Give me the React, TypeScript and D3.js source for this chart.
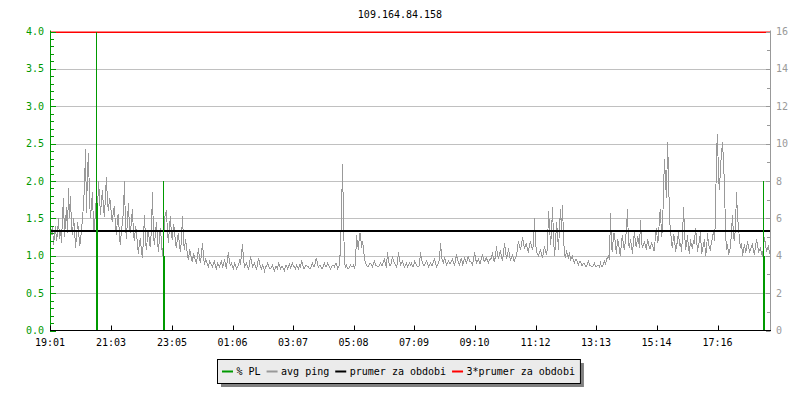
import { useEffect, useRef } from 'react';
import * as d3 from 'd3';

const TITLE = '109.164.84.158';
const START_TIME = '19:01';
const SPAN_MIN = 1440;
const TIME_TICKS = ['19:01', '21:03', '23:05', '01:06', '03:07', '05:08', '07:09', '09:10', '11:12', '13:13', '15:14', '17:16'];

const PL_TICKS = [0, 0.5, 1, 1.5, 2, 2.5, 3, 3.5, 4];
const MS_TICKS = [0, 2, 4, 6, 8, 10, 12, 14, 16];

// avg ping in ms, one sample every 2 minutes
const PING_STEP_MIN = 2;
const PING_MS = [
  4.9, 5.3, 5.6, 4.6, 5.1, 5.6, 4.8, 5.2, 6.0, 4.9, 5.4, 4.7, 6.1, 7.1, 5.0, 5.8, 6.6, 5.2, 7.6, 6.0,
  7.2, 5.5, 5.1, 6.0, 5.5, 4.4, 5.0, 5.8, 5.4, 4.6, 4.7, 5.5, 5.9, 6.8, 7.7, 9.7, 6.3, 8.5, 9.5, 7.0,
  6.0, 6.8, 7.4, 5.5, 5.3, 6.6, 7.0, 6.3, 8.0, 7.2, 6.2, 7.0, 7.5, 6.5, 6.1, 7.3, 8.2, 6.8, 6.4, 7.1,
  6.9, 6.0, 5.8, 6.5, 6.6, 5.5, 5.1, 6.1, 6.2, 4.9, 4.6, 5.5, 5.7, 6.5, 8.0, 5.5, 4.9, 6.0, 6.8, 5.4,
  5.2, 6.0, 6.5, 5.1, 4.8, 5.6, 5.3, 4.5, 4.1, 4.8, 4.9, 4.2, 3.9, 5.0, 6.2, 4.8, 4.3, 5.1, 5.4, 4.6,
  4.5, 5.6, 7.4, 5.0, 4.6, 5.3, 5.8, 4.8, 4.2, 5.0, 5.5, 4.6, 4.0, 4.8, 5.9, 6.3, 6.4, 5.2, 4.7, 5.6,
  6.1, 5.0, 4.9, 5.7, 5.4, 4.6, 4.4, 5.0, 5.2, 4.5, 4.2, 4.9, 6.1, 4.8, 4.3, 4.9, 4.5, 4.0, 3.8, 4.3,
  4.2, 3.8, 3.7, 4.1, 4.0, 3.7, 3.6, 4.0, 4.4, 3.8, 3.6, 4.1, 4.7, 3.9, 3.5, 3.8, 3.7, 3.5, 3.4, 3.7,
  3.6, 3.5, 3.4, 3.6, 3.7, 3.4, 3.3, 3.6, 3.5, 3.4, 3.6, 3.7, 3.4, 3.5, 3.8, 3.5, 3.3, 3.9, 4.2, 3.6,
  3.5, 3.6, 3.4, 3.3, 3.6, 3.5, 3.3, 3.4, 3.5, 3.7, 3.5, 4.1, 4.6, 3.8, 3.4, 3.5, 3.6, 3.4, 3.3, 3.5,
  4.0, 3.7, 3.4, 3.5, 3.6, 3.4, 3.3, 3.5, 3.9, 3.6, 3.4, 3.3, 3.5, 3.4, 3.2, 3.4, 3.4, 3.6, 3.5, 3.3,
  3.3, 3.4, 3.5, 3.3, 3.2, 3.4, 3.4, 3.3, 3.6, 3.5, 3.3, 3.4, 3.4, 3.3, 3.2, 3.5, 3.5, 3.3, 3.4, 3.6,
  3.3, 3.5, 3.6, 3.4, 3.4, 3.3, 3.5, 3.4, 3.3, 3.5, 3.4, 3.7, 3.6, 3.3, 3.3, 3.5, 3.5, 3.4, 3.4, 3.3,
  3.3, 3.5, 3.6, 3.4, 3.4, 3.7, 3.9, 3.5, 3.4, 3.5, 3.5, 3.3, 3.3, 3.5, 3.6, 3.4, 3.4, 3.6, 3.5, 3.4,
  3.3, 3.4, 3.5, 3.5, 3.4, 3.6, 3.6, 3.3, 3.4, 3.5, 4.5, 6.2, 8.9, 6.0, 3.6, 3.4, 3.5, 3.3, 3.3, 3.4,
  3.5, 3.4, 3.4, 3.5, 3.3, 3.6, 5.1, 4.6, 4.3, 5.2, 5.2, 4.4, 4.8, 4.4, 3.8, 3.6, 3.5, 3.4, 3.4, 3.6,
  3.6, 3.5, 3.4, 3.6, 3.7, 3.5, 3.5, 3.4, 3.4, 3.5, 3.6, 3.5, 3.5, 3.7, 3.8, 3.5, 3.4, 4.2, 3.7, 3.5,
  3.5, 3.6, 4.0, 3.7, 3.6, 3.5, 3.4, 3.6, 4.2, 3.8, 3.5, 3.6, 3.7, 3.5, 3.4, 3.5, 3.6, 3.4, 3.5, 3.6,
  3.5, 3.6, 3.4, 3.4, 3.7, 3.6, 3.5, 3.4, 3.4, 3.5, 4.2, 3.8, 3.6, 3.5, 3.5, 3.6, 3.7, 3.6, 3.4, 3.5,
  3.6, 3.5, 3.5, 3.7, 3.8, 3.6, 3.4, 3.5, 3.6, 3.8, 4.7, 4.0, 3.7, 3.6, 3.9, 3.7, 3.5, 3.6, 3.7, 3.6,
  3.6, 3.7, 3.8, 3.6, 3.5, 3.7, 4.1, 3.8, 3.6, 3.5, 3.7, 3.9, 3.5, 3.6, 3.9, 3.7, 3.6, 3.8, 4.0, 3.7,
  3.7, 3.6, 3.5, 3.8, 4.2, 3.9, 3.6, 3.7, 3.8, 3.6, 3.6, 3.9, 4.1, 3.8, 3.7, 3.8, 3.9, 3.7, 3.6, 3.8,
  3.8, 3.9, 4.2, 3.8, 3.7, 4.0, 4.5, 4.0, 3.9, 4.1, 4.3, 3.9, 3.8, 4.1, 4.7, 4.2, 3.9, 4.0, 4.4, 4.0,
  3.8, 3.9, 4.1, 3.8, 3.7, 3.9, 4.0, 4.4, 4.8, 4.5, 4.3, 4.6, 5.0, 4.7, 4.4, 4.5, 4.7, 4.3, 4.2, 4.6,
  4.8, 4.5, 4.3, 4.6, 6.0, 4.8, 4.2, 4.1, 4.0, 4.2, 4.3, 4.1, 3.9, 4.2, 4.5, 4.2, 4.1, 4.4, 6.4, 5.6,
  4.6, 5.2, 6.6, 5.0, 4.0, 4.6, 5.8, 5.2, 4.3, 5.5, 6.5, 5.3, 6.7, 5.0, 4.1, 3.9, 4.3, 4.0, 3.9, 4.2,
  3.8, 3.9, 4.0, 3.7, 3.6, 3.8, 3.8, 3.6, 3.5, 3.7, 3.7, 3.5, 3.5, 3.6, 3.6, 3.4, 3.4, 3.6, 3.7, 3.5,
  3.5, 3.4, 3.4, 3.5, 3.6, 3.4, 3.4, 3.5, 3.5, 3.4, 3.6, 3.4, 3.4, 3.6, 3.7, 3.5, 3.8, 3.9, 4.0, 3.8,
  6.3, 4.4, 4.2, 5.2, 5.2, 4.5, 4.1, 4.9, 4.7, 4.2, 4.0, 4.8, 5.1, 4.5, 4.3, 4.9, 5.4, 6.5, 4.6, 4.4,
  4.9, 4.5, 4.1, 4.8, 5.3, 4.6, 4.5, 5.0, 4.9, 4.4, 5.9, 4.8, 4.4, 4.6, 4.8, 4.5, 4.3, 4.9, 4.7, 4.4,
  4.4, 4.7, 4.6, 4.3, 4.3, 5.2, 5.5, 4.7, 4.9, 6.2, 6.5, 5.0, 5.4, 7.5, 9.2, 8.0, 7.1, 10.1, 8.6, 5.8,
  5.5, 4.6, 4.4, 5.1, 5.0, 4.2, 4.5, 4.8, 5.3, 4.5, 4.7, 4.2, 5.0, 6.6, 5.4, 4.3, 4.6, 5.1, 4.4, 4.1,
  4.9, 4.5, 4.4, 4.8, 4.7, 5.5, 5.0, 4.2, 4.6, 4.8, 5.3, 4.1, 4.3, 4.6, 4.9, 4.0, 4.3, 5.2, 4.6, 4.4,
  4.3, 4.8, 4.9, 5.4, 4.8, 6.0, 9.6, 10.5, 8.2, 7.5, 8.8, 9.4, 10.1, 9.0, 7.8, 5.3, 4.3, 4.6, 4.1, 4.2,
  4.5, 5.3, 6.2, 5.0, 4.8, 5.6, 7.4, 6.1, 5.5, 4.9, 4.4, 4.7, 4.0, 4.3, 4.6, 4.2, 4.3, 4.8, 4.5, 4.2,
  4.3, 4.5, 4.6, 4.2, 4.1, 4.5, 4.9, 4.6, 4.2, 4.3, 4.4, 4.1, 4.0, 4.5, 5.0, 4.6, 4.2, 4.4, 4.5, 4.1,
];

// packet loss events: minute from start, peak %, held %
const PL_MIN = [92, 226, 1426];
const PL_PEAK = [4.0, 2.0, 2.0];
const PL_LEVEL = [1.7, 1.0, 1.0];

const MEAN_MS = 5.32;

const LEGEND_LABELS = ['% PL', 'avg ping', 'prumer za obdobi', '3*prumer za obdobi'];

export default function App() {
  const svgRef = useRef<SVGSVGElement>(null);

  useEffect(() => {
    if (!svgRef.current) return;
    const W = 800, H = 400;
    const left = 50, right = 770, top = 31.5, bottom = 330.5;
    const font = '"DejaVu Sans Mono", monospace';
    const green = '#009900', gray = '#999999', grid = '#c0c0c0';

    const svg = d3.select(svgRef.current).attr('width', W).attr('height', H);
    svg.selectAll('*').remove();
    svg.append('rect').attr('width', W).attr('height', H).attr('fill', '#fff');

    const toMin = (s: string) => {
      const [h, m] = s.split(':').map(Number);
      return h * 60 + m;
    };
    const startMin = toMin(START_TIME);
    const sinceStart = (s: string) => (toMin(s) - startMin + 1440) % 1440;

    const x = d3.scaleLinear().domain([0, SPAN_MIN]).range([left, right]);
    const yPL = d3.scaleLinear().domain([0, 4]).range([bottom, top]);
    const yMs = d3.scaleLinear().domain([0, 16]).range([bottom, top]);

    // title
    svg.append('text')
      .attr('x', W / 2).attr('y', 18)
      .attr('text-anchor', 'middle')
      .style('font', `10px ${font}`)
      .text(TITLE);

    // grid
    svg.append('g').selectAll('line')
      .data(PL_TICKS.filter(d => d > 0))
      .enter().append('line')
      .attr('x1', left).attr('x2', right)
      .attr('y1', d => Math.round(yPL(d)) + 0.5)
      .attr('y2', d => Math.round(yPL(d)) + 0.5)
      .attr('stroke', grid);

    // avg ping (no antialiasing, like the rrd image)
    const pingLine = d3.line<number>()
      .x((_, i) => x(i * PING_STEP_MIN) + 0.5)
      .y(d => yMs(d));
    svg.append('path')
      .datum(PING_MS)
      .attr('d', pingLine)
      .attr('fill', 'none')
      .attr('stroke', gray)
      .attr('stroke-width', 1)
      .attr('shape-rendering', 'crispEdges');

    // mean lines
    svg.append('line')
      .attr('x1', left).attr('x2', right)
      .attr('y1', yMs(MEAN_MS)).attr('y2', yMs(MEAN_MS))
      .attr('stroke', '#000').attr('stroke-width', 2);
    svg.append('line')
      .attr('x1', left).attr('x2', right)
      .attr('y1', yMs(MEAN_MS * 3)).attr('y2', yMs(MEAN_MS * 3))
      .attr('stroke', '#ff0000').attr('stroke-width', 1.5);

    // packet loss
    const pl = svg.append('g').attr('shape-rendering', 'crispEdges');
    PL_MIN.forEach((m, i) => {
      const px = Math.round(x(m));
      pl.append('line')
        .attr('x1', px + 0.5).attr('x2', px + 0.5)
        .attr('y1', yPL(0)).attr('y2', yPL(PL_PEAK[i]))
        .attr('stroke', green).attr('stroke-width', 1);
      pl.append('rect')
        .attr('x', px).attr('width', 2)
        .attr('y', yPL(PL_LEVEL[i]))
        .attr('height', yPL(0) - yPL(PL_LEVEL[i]))
        .attr('fill', green);
    });

    // left axis
    const la = svg.append('g');
    la.append('line')
      .attr('x1', left + 0.5).attr('x2', left + 0.5)
      .attr('y1', top - 1).attr('y2', bottom)
      .attr('stroke', green);
    la.selectAll('.minor')
      .data(d3.range(0, 41).map(d => d / 10))
      .enter().append('line')
      .attr('x1', left).attr('x2', d => left + (Math.round(d * 10) % 5 === 0 ? 6 : 4))
      .attr('y1', d => Math.round(yPL(d)) + 0.5)
      .attr('y2', d => Math.round(yPL(d)) + 0.5)
      .attr('stroke', green);
    la.selectAll('text')
      .data(PL_TICKS)
      .enter().append('text')
      .attr('x', 44)
      .attr('y', d => yPL(d) + 3.5)
      .attr('text-anchor', 'end')
      .attr('fill', green)
      .style('font', `10px ${font}`)
      .text(d => d.toFixed(1));

    // right axis
    const ra = svg.append('g');
    ra.append('line')
      .attr('x1', right + 0.5).attr('x2', right + 0.5)
      .attr('y1', top - 1).attr('y2', bottom)
      .attr('stroke', gray);
    ra.selectAll('.tick')
      .data(d3.range(0, 17))
      .enter().append('line')
      .attr('x1', right + 0.5)
      .attr('x2', d => right - (d % 2 === 0 ? 4 : 3))
      .attr('y1', d => Math.round(yMs(d)) + 0.5)
      .attr('y2', d => Math.round(yMs(d)) + 0.5)
      .attr('stroke', gray);
    ra.selectAll('text')
      .data(MS_TICKS)
      .enter().append('text')
      .attr('x', right + 6)
      .attr('y', d => yMs(d) + 3.5)
      .attr('fill', gray)
      .style('font', `10px ${font}`)
      .text(d => String(d));

    // bottom axis
    const ba = svg.append('g');
    ba.append('line')
      .attr('x1', left).attr('x2', right + 1)
      .attr('y1', bottom).attr('y2', bottom)
      .attr('stroke', '#000');
    ba.selectAll('.tick')
      .data(TIME_TICKS)
      .enter().append('line')
      .attr('x1', d => Math.round(x(sinceStart(d))) + 0.5)
      .attr('x2', d => Math.round(x(sinceStart(d))) + 0.5)
      .attr('y1', bottom).attr('y2', bottom - 5)
      .attr('stroke', '#000');
    ba.selectAll('text')
      .data(TIME_TICKS)
      .enter().append('text')
      .attr('x', d => x(sinceStart(d)))
      .attr('y', bottom + 15)
      .attr('text-anchor', 'middle')
      .style('font', `10px ${font}`)
      .text(d => d);

    // legend
    const colors = [green, gray, '#000', '#ff0000'];
    const charW = 6.02;
    const lx = 217, ly = 359;
    let cx = lx + 5;
    const items = LEGEND_LABELS.map(label => {
      const pos = cx;
      cx += 11 + 3.5 + label.length * charW + 6;
      return { label, pos };
    });
    const lw = cx - lx - 1;
    const lg = svg.append('g');
    lg.append('rect')
      .attr('x', lx + 4).attr('y', ly + 4).attr('width', lw).attr('height', 24)
      .attr('fill', '#808080');
    lg.append('rect')
      .attr('x', lx + 0.5).attr('y', ly + 0.5).attr('width', lw).attr('height', 24)
      .attr('fill', '#ebebeb').attr('stroke', '#000');
    items.forEach((it, i) => {
      lg.append('line')
        .attr('x1', it.pos).attr('x2', it.pos + 11)
        .attr('y1', ly + 12.5).attr('y2', ly + 12.5)
        .attr('stroke', colors[i]).attr('stroke-width', 2);
      lg.append('text')
        .attr('x', it.pos + 14.5).attr('y', ly + 16)
        .style('font', `10px ${font}`)
        .text(it.label);
    });
  }, []);

  return (
    <svg ref={svgRef} style={{ position: 'absolute', left: 0, top: 0, display: 'block' }} />
  );
}
